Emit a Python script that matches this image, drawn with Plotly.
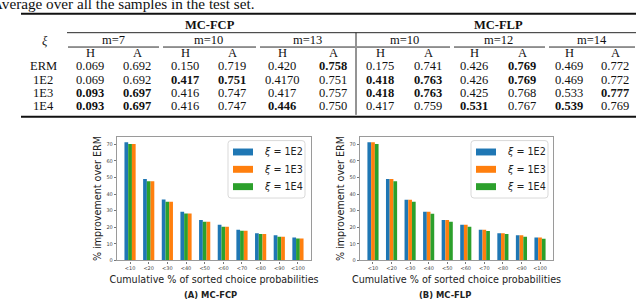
import plotly.graph_objects as go

W, H = 640, 305

# ---------------- data ----------------
categories = ["<10", "<20", "<30", "<40", "<50", "<60", "<70", "<80", "<90", "<100"]
series_names = ["ξ = 1E2", "ξ = 1E3", "ξ = 1E4"]
series_colors = ["#1f77b4", "#ff7f0e", "#2ca02c"]

fcp_1e2 = [71.2, 49.1, 36.7, 29.3, 24.3, 21.5, 18.5, 16.3, 15.1, 13.8]
fcp_1e3 = [70.2, 47.7, 35.3, 28.3, 23.3, 20.3, 17.9, 15.9, 14.2, 13.2]
fcp_1e4 = [70.2, 47.7, 35.3, 28.3, 23.3, 20.3, 17.9, 15.9, 14.2, 13.2]

flp_1e2 = [71.2, 49.1, 36.5, 29.3, 24.3, 21.5, 18.5, 16.3, 15.1, 13.8]
flp_1e3 = [71.2, 49.1, 36.5, 29.3, 24.3, 21.5, 18.5, 16.3, 15.1, 13.8]
flp_1e4 = [70.2, 47.7, 35.3, 28.1, 23.3, 20.3, 17.7, 15.9, 14.2, 13.0]

y_ticks = [0, 10, 20, 30, 40, 50, 60, 70]

# table
table_caption = "Average over all the samples in the test set."
table_groups = ["MC-FCP", "MC-FLP"]
m_labels = ["m=7", "m=10", "m=13", "m=10", "m=12", "m=14"]
col_labels = ["H", "A"] * 6
row_labels = ["ERM", "1E2", "1E3", "1E4"]
table_values = [
    ["0.069", "0.692", "0.150", "0.719", "0.420", "0.758", "0.175", "0.741", "0.426", "0.769", "0.469", "0.772"],
    ["0.069", "0.692", "0.417", "0.751", "0.4170", "0.751", "0.418", "0.763", "0.426", "0.769", "0.469", "0.772"],
    ["0.093", "0.697", "0.416", "0.747", "0.417", "0.757", "0.418", "0.763", "0.425", "0.768", "0.533", "0.777"],
    ["0.093", "0.697", "0.416", "0.747", "0.446", "0.750", "0.417", "0.759", "0.531", "0.767", "0.539", "0.769"],
]
table_bold = [
    [0, 0, 0, 0, 0, 1, 0, 0, 0, 1, 0, 0],
    [0, 0, 1, 1, 0, 0, 1, 1, 0, 1, 0, 0],
    [1, 1, 0, 0, 0, 0, 1, 1, 0, 0, 0, 1],
    [1, 1, 0, 0, 1, 0, 0, 0, 1, 0, 1, 0],
]

# ---------------- helpers ----------------
def px(x):
    return x / W

def py(y):
    return 1 - y / H

SERIF = "Liberation Serif"
SANS = "DejaVu Sans"

fig = go.Figure()

# ---------------- bars ----------------
# panel A draw order: 1E2, 1E4, 1E3 ; panel B: 1E2, 1E3, 1E4
panel_a = [(fcp_1e2, 0), (fcp_1e4, 2), (fcp_1e3, 1)]
panel_b = [(flp_1e2, 0), (flp_1e3, 1), (flp_1e4, 2)]
for vals, si in panel_a:
    fig.add_trace(go.Bar(x=categories, y=vals, name=series_names[si],
                         marker=dict(color=series_colors[si], line=dict(width=0)),
                         xaxis="x", yaxis="y", showlegend=False))
for vals, si in panel_b:
    fig.add_trace(go.Bar(x=categories, y=vals, name=series_names[si],
                         marker=dict(color=series_colors[si], line=dict(width=0)),
                         xaxis="x2", yaxis="y2", showlegend=False))

ydom = [py(263), py(138)]
axis_common = dict(showline=True, mirror=True, linecolor="#9a9a9a", linewidth=1.4,
                   ticks="outside", ticklen=2, tickcolor="#777", tickwidth=0.8,
                   showgrid=False, zeroline=False)
xt = dict(tickfont=dict(family=SANS, size=5, color="#444"),
          title=dict(text="Cumulative % of sorted choice probabilities",
                     font=dict(family=SANS, size=9.6, color="#222"), standoff=6),
          range=[-0.7, 9.7], type="category", **axis_common)
yt = dict(tickfont=dict(family=SANS, size=5, color="#444"), tickvals=y_ticks,
          title=dict(text="% improvement over ERM",
                     font=dict(family=SANS, size=9.6, color="#222"), standoff=3),
          range=[0, 74.6], **axis_common)

fig.update_layout(
    xaxis=dict(domain=[px(117), px(311)], anchor="y", **xt),
    yaxis=dict(domain=ydom, anchor="x", **yt),
    xaxis2=dict(domain=[px(360), px(553)], anchor="y2", **xt),
    yaxis2=dict(domain=ydom, anchor="x2", **yt),
)

shapes = []
annotations = []

# ---------------- custom legends ----------------
def rounded_rect(x0, y0, x1, y1, r=3):
    return (f"M{px(x0 + r)},{py(y0)} L{px(x1 - r)},{py(y0)} Q{px(x1)},{py(y0)} {px(x1)},{py(y0 + r)} "
            f"L{px(x1)},{py(y1 - r)} Q{px(x1)},{py(y1)} {px(x1 - r)},{py(y1)} "
            f"L{px(x0 + r)},{py(y1)} Q{px(x0)},{py(y1)} {px(x0)},{py(y1 - r)} "
            f"L{px(x0)},{py(y0 + r)} Q{px(x0)},{py(y0)} {px(x0 + r)},{py(y0)} Z")

for lx in (228, 471):
    shapes.append(dict(type="path", xref="paper", yref="paper",
                       path=rounded_rect(lx, 142, lx + 77, 200),
                       line=dict(color="#d9d9d9", width=1), fillcolor="rgba(255,255,255,0.85)"))
    for i in range(3):
        cy = 153.5 + i * 17.5
        shapes.append(dict(type="rect", xref="paper", yref="paper",
                           x0=px(lx + 5), x1=px(lx + 25), y0=py(cy + 3.5), y1=py(cy - 3.5),
                           line=dict(width=0), fillcolor=series_colors[i]))
        txt = series_names[i].replace("ξ", "<i>ξ</i>")
        annotations.append(dict(xref="paper", yref="paper", x=px(lx + 34), y=py(cy),
                                xanchor="left", yanchor="middle", showarrow=False, text=txt,
                                font=dict(family=SANS, size=9.6, color="#222")))

# panel captions
annotations.append(dict(xref="paper", yref="paper", x=px(210), y=py(298), xanchor="center",
                        yanchor="middle", showarrow=False, text="<b>(A) MC-FCP</b>",
                        font=dict(family=SANS, size=8.4, color="#222")))
annotations.append(dict(xref="paper", yref="paper", x=px(445), y=py(298), xanchor="center",
                        yanchor="middle", showarrow=False, text="<b>(B) MC-FLP</b>",
                        font=dict(family=SANS, size=8.4, color="#222")))

# ---------------- table ----------------
tfont = dict(family=SERIF, size=12.5, color="#111")
annotations.append(dict(xref="paper", yref="paper", x=px(-10.5), y=py(4), xanchor="left",
                        yanchor="middle", showarrow=False, text=table_caption,
                        font=dict(family=SERIF, size=15.2, color="#111")))

col_x = [90, 137, 185, 232, 282, 333, 380, 428, 474, 522, 569, 615]
row_y = [67, 80.3, 93.6, 107]

def line(x0, x1, y0, y1, w, c="#111"):
    shapes.append(dict(type="line", xref="paper", yref="paper", x0=px(x0), x1=px(x1),
                       y0=py(y0), y1=py(y1), line=dict(color=c, width=w)))

line(21, 636, 14, 14, 2)
line(21, 636, 118, 118, 2)
line(67, 356, 33, 33, 0.9)
line(356, 636, 33, 33, 0.9)
m_spans = [(67, 160), (162, 257), (259, 356), (356, 451), (453, 546), (548, 636)]
for (a, b) in m_spans:
    line(a + 1, b - 1, 47.5, 47.5, 0.9)
line(356, 356, 33, 116, 0.9)

for gi, g in enumerate(table_groups):
    annotations.append(dict(xref="paper", yref="paper", x=px([210, 498][gi]), y=py(25),
                            xanchor="center", yanchor="middle", showarrow=False,
                            text=f"<b>{g}</b>", font=tfont))
annotations.append(dict(xref="paper", yref="paper", x=px(45), y=py(41), xanchor="center",
                        yanchor="middle", showarrow=False, text="<i>ξ</i>", font=tfont))
for mi, m in enumerate(m_labels):
    cx = (col_x[2 * mi] + col_x[2 * mi + 1]) / 2
    annotations.append(dict(xref="paper", yref="paper", x=px(cx), y=py(40.5),
                            xanchor="center", yanchor="middle", showarrow=False,
                            text=m, font=tfont))
for ci, c in enumerate(col_labels):
    annotations.append(dict(xref="paper", yref="paper", x=px(col_x[ci]), y=py(54),
                            xanchor="center", yanchor="middle", showarrow=False,
                            text=c, font=tfont))
for ri, r in enumerate(row_labels):
    annotations.append(dict(xref="paper", yref="paper", x=px(43), y=py(row_y[ri]),
                            xanchor="center", yanchor="middle", showarrow=False,
                            text=r, font=tfont))
    for ci, v in enumerate(table_values[ri]):
        t = f"<b>{v}</b>" if table_bold[ri][ci] else v
        annotations.append(dict(xref="paper", yref="paper", x=px(col_x[ci]), y=py(row_y[ri]),
                                xanchor="center", yanchor="middle", showarrow=False,
                                text=t, font=tfont))

fig.update_layout(
    width=W, height=H, margin=dict(l=0, r=0, t=0, b=0),
    paper_bgcolor="white", plot_bgcolor="white",
    barmode="group", bargap=0.4, bargroupgap=0,
    shapes=shapes, annotations=annotations, showlegend=False,
)

fig.write_html("out.html", config={"displayModeBar": False},
               post_script="document.body.style.margin='0';document.body.style.overflow='hidden';")
